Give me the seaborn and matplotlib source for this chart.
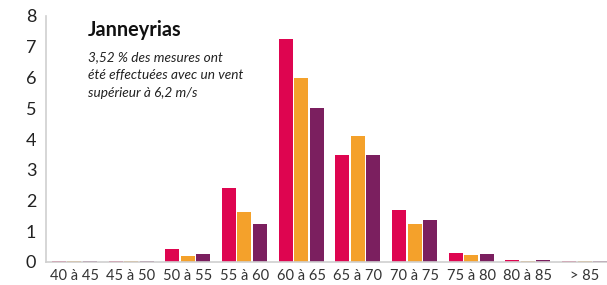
import numpy as np
import pandas as pd
import matplotlib
matplotlib.use("Agg")
import matplotlib.pyplot as plt
import seaborn as sns

categories = ["40 à 45", "45 à 50", "50 à 55", "55 à 60", "60 à 65",
              "65 à 70", "70 à 75", "75 à 80", "80 à 85", "> 85"]
serie_a = [0.02, 0.04, 0.42, 2.40, 7.25, 3.48, 1.69, 0.29, 0.05, 0.03]
serie_b = [0.02, 0.02, 0.20, 1.63, 6.00, 4.10, 1.24, 0.23, 0.03, 0.03]
serie_c = [0.03, 0.04, 0.26, 1.24, 5.00, 3.48, 1.37, 0.26, 0.05, 0.03]
series_names = ["A", "B", "C"]
colors = ["#DE0550", "#F4A12B", "#7B1F5F"]
yticks = [0, 1, 2, 3, 4, 5, 6, 7, 8]
title = "Janneyrias"
subtitle = "3,52 % des mesures ont\nété effectuées avec un vent\nsupérieur à 6,2 m/s"

df = pd.DataFrame({
    "cat": categories * 3,
    "val": serie_a + serie_b + serie_c,
    "serie": [series_names[0]] * 10 + [series_names[1]] * 10 + [series_names[2]] * 10,
})

sns.set_style("white")
plt.rcParams["font.family"] = ["Lato", "DejaVu Sans"]

fig = plt.figure(figsize=(6.07, 2.85), dpi=100)
left = 46 / 607
width = (613 - 46) / 607
bottom = (285 - 262) / 285
height = (262 - 16) / 285
ax = fig.add_axes([left, bottom, width, height])

sns.barplot(data=df, x="cat", y="val", hue="serie", order=categories,
            hue_order=series_names, palette=colors, width=0.82, gap=0.1,
            saturation=1, linewidth=0, legend=False, ax=ax)

ax.set_xlim(-0.5, 9.5)
ax.set_ylim(0, 8)
ax.set_xlabel("")
ax.set_ylabel("")

for s in ["top", "right"]:
    ax.spines[s].set_visible(False)
for s in ["left", "bottom"]:
    ax.spines[s].set_color("#cfcfcf")
    ax.spines[s].set_linewidth(1.2)

ax.set_yticks(yticks)
ax.set_yticklabels([str(v) for v in yticks])
ax.tick_params(axis="y", direction="in", length=13, width=1.2, color="#cfcfcf",
               labelsize=13, labelcolor="#222222", pad=7)
ax.set_xticks(np.arange(len(categories)))
ax.set_xticklabels(categories)
ax.tick_params(axis="x", which="major", length=0, labelsize=10.5,
               labelcolor="#333333", pad=5)
ax.set_xticks(np.arange(-0.5, len(categories), 1.0), minor=True)
ax.tick_params(axis="x", which="minor", direction="in", length=5, width=1.2,
               color="#cfcfcf")

fig.text(88 / 607, 1 - 30 / 285, title, fontsize=14.3, fontweight="bold",
         color="#111111", va="center", ha="left")
fig.text(88 / 607, 1 - 51 / 285, subtitle, fontsize=9.8, style="italic",
         color="#222222", va="top", ha="left", linespacing=1.6)

fig.savefig("out.png", dpi=100)
